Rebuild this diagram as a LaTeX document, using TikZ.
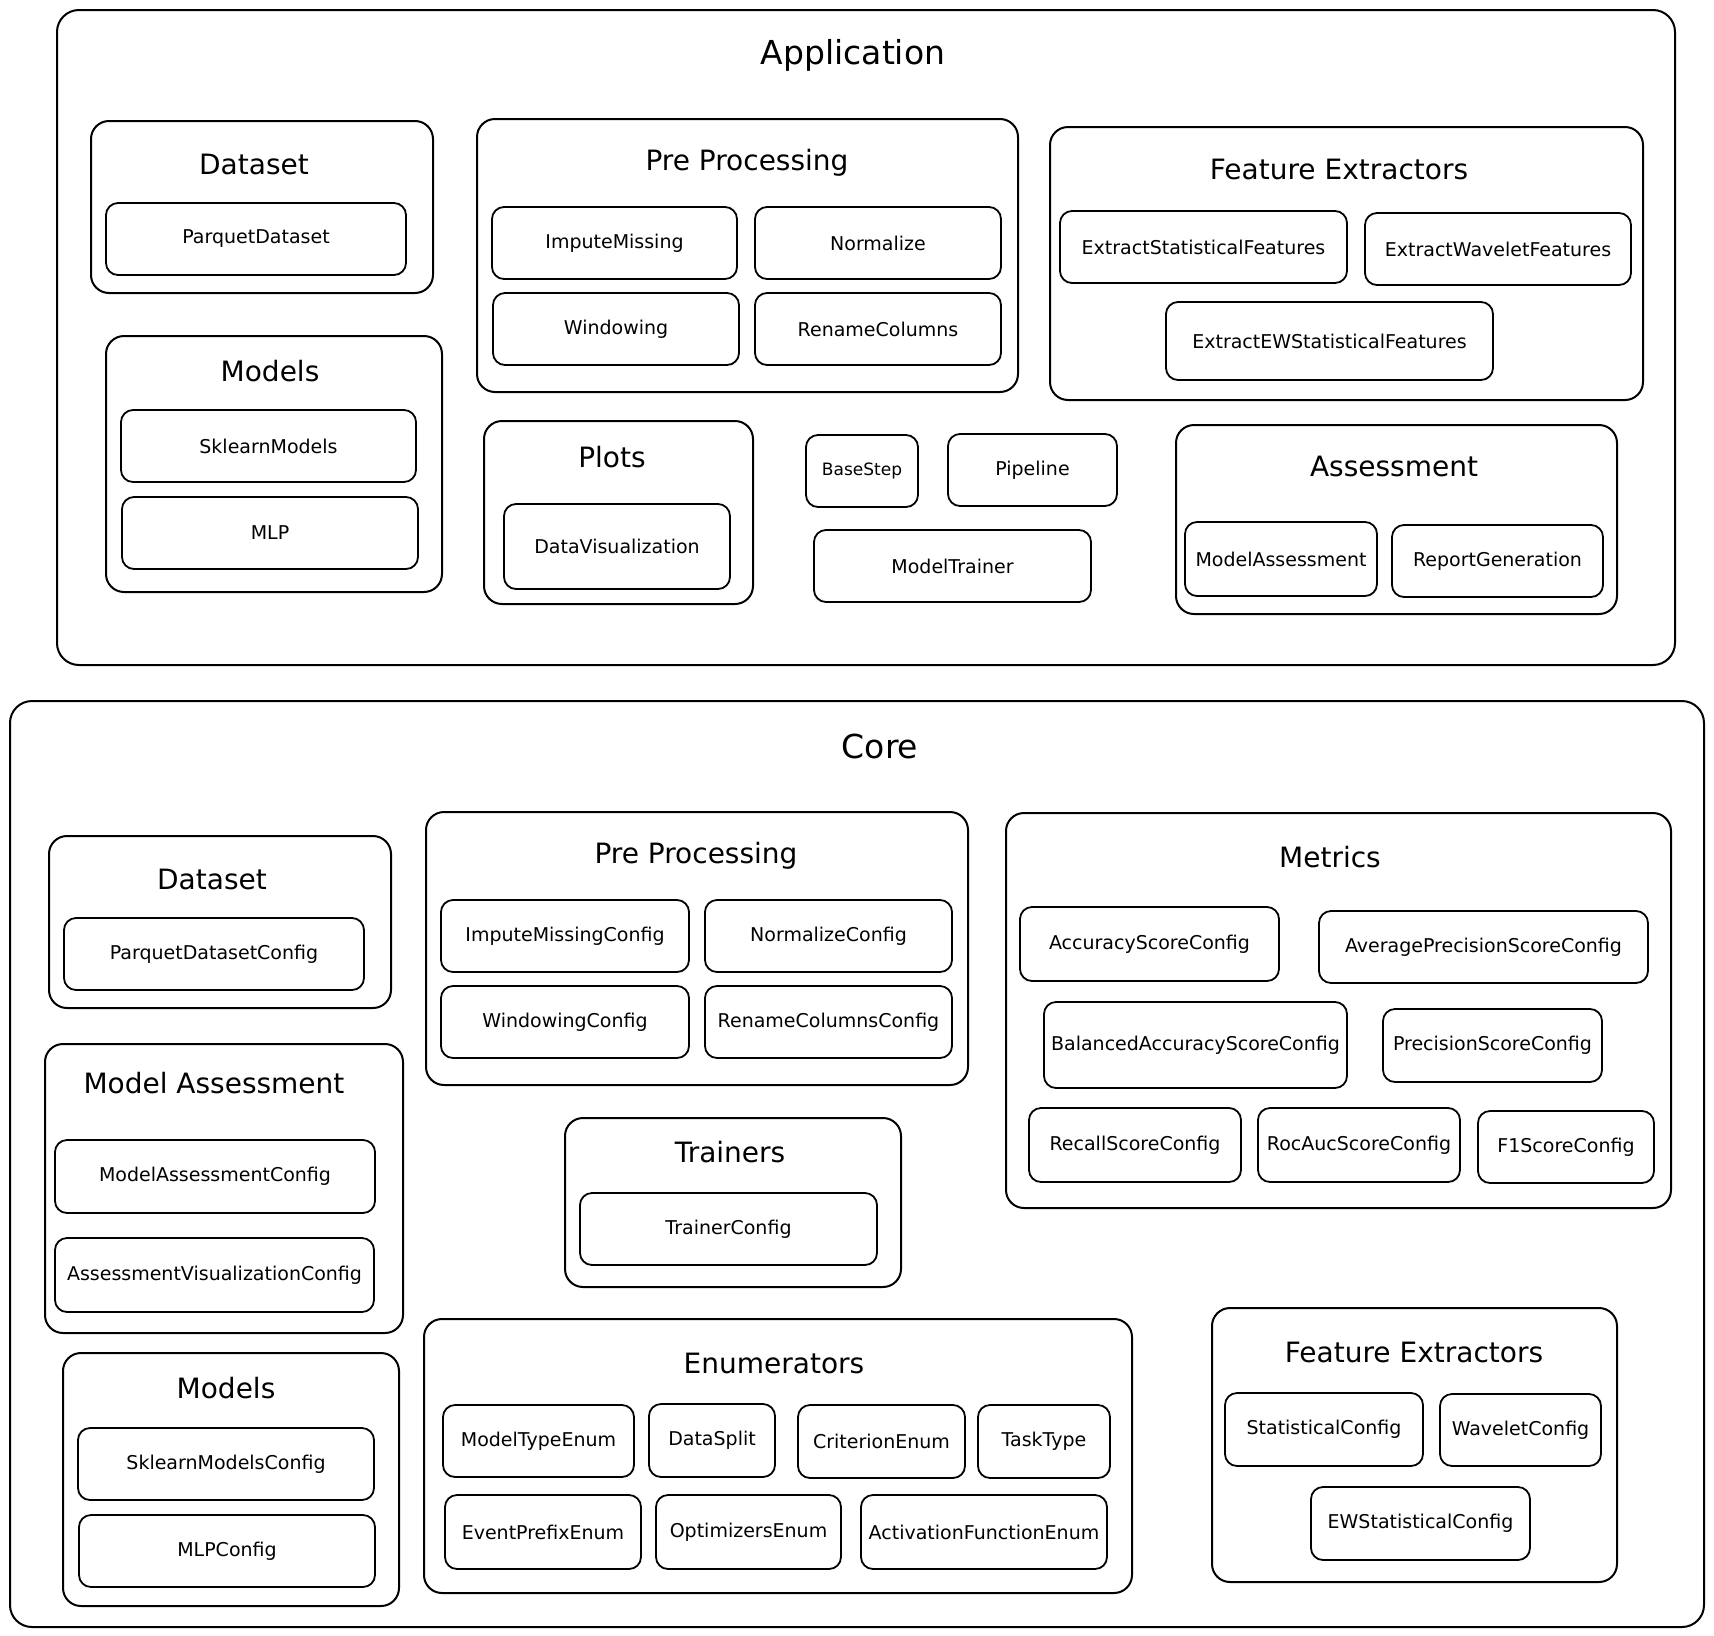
\documentclass[tikz,border=0pt]{standalone}
\usepackage{fontspec}
\setmainfont{DejaVu Sans}
\tikzset{
 frame/.style={draw=black, line width=2pt, rounded corners=22pt, inner sep=0pt},
 cont/.style={draw=black, line width=2pt, rounded corners=18pt, inner sep=0pt},
 ibox/.style={draw=black, line width=1.8pt, rounded corners=12pt, inner sep=0pt, font=\fontsize{19}{22}\selectfont},
 ttl/.style={font=\fontsize{28}{33}\selectfont},
 big/.style={font=\fontsize{33}{38}\selectfont}
}
\newcommand\cbox[6][cont]{\node[#1, minimum width={#4-#2}, minimum height={#5-#3}] (#6) at ({(#2+#4)/2},{-(#3+#5)/2}) {};}
\newcommand\ib[6]{\node[ibox, minimum width={#4-#2}, minimum height={#5-#3}] (#1) at ({(#2+#4)/2},{-(#3+#5)/2}) {#6};}
\begin{document}
\begin{tikzpicture}[x=1pt,y=1pt]
\useasboundingbox[fill=white] (0,0) rectangle (1714,-1636);
% ---------------- Application
\cbox[frame]{57}{10}{1675}{665}{app}
\node[big] (appT) at (853,-55) {Application};
% Dataset
\cbox{91}{121}{433}{293}{aDs}
\node[ttl] (aDsT) at (254,-164) {Dataset};
\ib{aPq}{106}{203}{406}{275}{ParquetDataset}
% Models
\cbox{106}{336}{442}{592}{aMo}
\node[ttl] (aMoT) at (270,-371) {Models};
\ib{aSk}{121}{410}{416}{482}{SklearnModels}
\ib{aMlp}{122}{497}{418}{569}{MLP}
% Pre Processing
\cbox{477}{119}{1018}{392}{aPp}
\node[ttl] (aPpT) at (747,-163) {Pre Processing};
\ib{aIm}{492}{207}{737}{279}{ImputeMissing}
\ib{aNo}{755}{207}{1001}{279}{Normalize}
\ib{aWi}{493}{293}{739}{365}{Windowing}
\ib{aRe}{755}{293}{1001}{365}{RenameColumns}
% Feature Extractors
\cbox{1050}{127}{1643}{400}{aFe}
\node[ttl] (aFeT) at (1339,-169) {Feature Extractors};
\ib{aEs}{1060}{211}{1347}{283}{ExtractStatisticalFeatures}
\ib{aEw}{1365}{213}{1631}{285}{ExtractWaveletFeatures}
\ib{aEe}{1166}{302}{1493}{380}{ExtractEWStatisticalFeatures}
% Plots
\cbox{484}{421}{753}{604}{aPl}
\node[ttl] (aPlT) at (612,-457) {Plots};
\ib{aDv}{504}{504}{730}{589}{DataVisualization}
% loose
\ib{aBs}{806}{435}{918}{507}{\fontsize{17}{20}\selectfont BaseStep}
\ib{aPi}{948}{434}{1117}{506}{Pipeline}
\ib{aMt}{814}{530}{1091}{602}{ModelTrainer}
% Assessment
\cbox{1176}{425}{1617}{614}{aAs}
\node[ttl] (aAsT) at (1394,-466) {Assessment};
\ib{aMa}{1185}{522}{1377}{596}{ModelAssessment}
\ib{aRg}{1392}{525}{1603}{597}{ReportGeneration}
% ---------------- Core
\cbox[frame]{10}{701}{1704}{1627}{core}
\node[big] (coreT) at (880,-746) {Core};
% Dataset
\cbox{49}{836}{391}{1008}{cDs}
\node[ttl] (cDsT) at (212,-879) {Dataset};
\ib{cPq}{64}{918}{364}{990}{ParquetDatasetConfig}
% Model Assessment
\cbox{45}{1044}{403}{1333}{cMa}
\node[ttl] (cMaT) at (214,-1083) {Model Assessment};
\ib{cMac}{55}{1140}{375}{1213}{ModelAssessmentConfig}
\ib{cAvc}{55}{1238}{374}{1312}{AssessmentVisualizationConfig}
% Models
\cbox{63}{1353}{399}{1606}{cMo}
\node[ttl] (cMoT) at (226,-1388) {Models};
\ib{cSk}{78}{1428}{374}{1500}{SklearnModelsConfig}
\ib{cMlp}{79}{1515}{375}{1587}{MLPConfig}
% Pre Processing
\cbox{426}{812}{968}{1085}{cPp}
\node[ttl] (cPpT) at (696,-856) {Pre Processing};
\ib{cIm}{441}{900}{689}{972}{ImputeMissingConfig}
\ib{cNo}{705}{900}{952}{972}{NormalizeConfig}
\ib{cWi}{441}{986}{689}{1058}{WindowingConfig}
\ib{cRe}{705}{986}{952}{1058}{RenameColumnsConfig}
% Trainers
\cbox{565}{1118}{901}{1287}{cTr}
\node[ttl] (cTrT) at (730,-1152) {Trainers};
\ib{cTc}{580}{1193}{877}{1265}{TrainerConfig}
% Metrics
\cbox{1006}{813}{1671}{1208}{cMe}
\node[ttl] (cMeT) at (1330,-857) {Metrics};
\ib{cAcc}{1020}{907}{1279}{981}{AccuracyScoreConfig}
\ib{cApc}{1319}{911}{1648}{983}{AveragePrecisionScoreConfig}
\ib{cBac}{1044}{1002}{1347}{1088}{BalancedAccuracyScoreConfig}
\ib{cPrc}{1383}{1009}{1602}{1082}{PrecisionScoreConfig}
\ib{cRec}{1029}{1108}{1241}{1182}{RecallScoreConfig}
\ib{cRoc}{1258}{1108}{1460}{1182}{RocAucScoreConfig}
\ib{cF1}{1478}{1111}{1654}{1183}{F1ScoreConfig}
% Enumerators
\cbox{424}{1319}{1132}{1593}{cEn}
\node[ttl] (cEnT) at (774,-1363) {Enumerators};
\ib{cMte}{443}{1405}{634}{1477}{ModelTypeEnum}
\ib{cDsp}{649}{1404}{775}{1477}{DataSplit}
\ib{cCri}{798}{1405}{965}{1478}{CriterionEnum}
\ib{cTt}{978}{1405}{1110}{1478}{TaskType}
\ib{cEpe}{445}{1495}{641}{1569}{EventPrefixEnum}
\ib{cOpt}{656}{1495}{841}{1569}{OptimizersEnum}
\ib{cAct}{861}{1495}{1107}{1569}{ActivationFunctionEnum}
% Feature Extractors
\cbox{1212}{1308}{1617}{1582}{cFe}
\node[ttl] (cFeT) at (1414,-1352) {Feature Extractors};
\ib{cSt}{1225}{1393}{1423}{1466}{StatisticalConfig}
\ib{cWv}{1440}{1394}{1601}{1466}{WaveletConfig}
\ib{cEw}{1311}{1487}{1530}{1560}{EWStatisticalConfig}
\end{tikzpicture}
\end{document}
